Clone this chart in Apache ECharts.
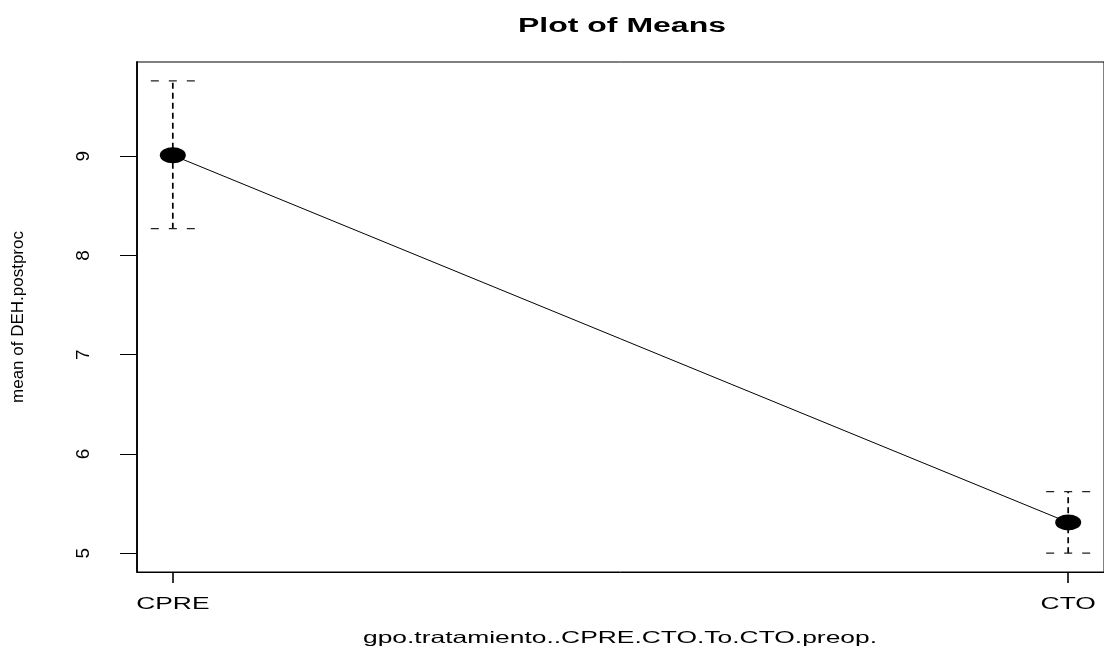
<!DOCTYPE html>
<html>
<head>
<meta charset="utf-8">
<script src="https://cdn.jsdelivr.net/npm/echarts@6/dist/echarts.min.js"></script>
<style>
  html, body { margin: 0; padding: 0; background: #fff; }
  #chart { width: 1104px; height: 651px; }
</style>
</head>
<body>
<div id="chart"></div>
<script>
// Group means of DEH.postproc with their interval bars
const categories = ['CPRE', 'CTO'];
const xPositions = [1, 2];
const means = [9.01, 5.31];
const lowerBounds = [8.27, 5.0];
const upperBounds = [9.76, 5.62];
const yTicks = [5, 6, 7, 8, 9];
const yRange = [4.81, 9.95];
const xRange = [0.96, 2.04];

const titleText = 'Plot of Means';
const xName = 'gpo.tratamiento..CPRE.CTO.To.CTO.preop.';
const yName = 'mean of DEH.postproc';

const FONT = '"Liberation Sans", Arial, Helvetica, sans-serif';
const WIDE = 1.6;          // horizontal text widening
const GRID = { left: 137, top: 62, width: 970, height: 510 };

const meanPoints = xPositions.map((x, i) => [x, means[i]]);
const barData = xPositions.map((x, i) => [x, lowerBounds[i], upperBounds[i]]);

const chart = echarts.init(document.getElementById('chart'), null, { renderer: 'canvas' });

const option = {
  backgroundColor: '#ffffff',
  animation: false,
  grid: Object.assign({ show: true, borderColor: '#000', borderWidth: 1, backgroundColor: 'transparent' }, GRID),
  xAxis: {
    type: 'value',
    min: xRange[0],
    max: xRange[1],
    splitLine: { show: false },
    axisLine: { show: true, onZero: false, lineStyle: { color: '#000', width: 1 } },
    axisTick: { show: true, customValues: xPositions, length: 11, lineStyle: { color: '#000', width: 1.6 } },
    axisLabel: { show: false }
  },
  yAxis: {
    type: 'value',
    min: yRange[0],
    max: yRange[1],
    name: yName,
    nameLocation: 'middle',
    nameRotate: 90,
    nameGap: 110,
    nameTextStyle: { fontFamily: FONT, fontSize: 17, color: '#000' },
    splitLine: { show: false },
    axisLine: { show: true, lineStyle: { color: '#000', width: 1.8 } },
    axisTick: { show: true, customValues: yTicks, length: 17, lineStyle: { color: '#000', width: 1 } },
    axisLabel: {
      customValues: yTicks,
      rotate: 90,
      margin: 44,
      fontFamily: FONT,
      fontSize: 19,
      color: '#000'
    }
  },
  series: [
    {
      // dashed interval bars with dashed end caps
      type: 'custom',
      z: 2,
      data: barData,
      encode: { x: 0, y: [1, 2] },
      renderItem: function (params, api) {
        const x = api.value(0);
        const lo = api.coord([x, api.value(1)]);
        const hi = api.coord([x, api.value(2)]);
        const half = 22;
        const capStyle = { stroke: '#222', lineWidth: 1.2, lineDash: [8, 10] };
        return {
          type: 'group',
          children: [
            { type: 'line', shape: { x1: lo[0], y1: lo[1], x2: hi[0], y2: hi[1] },
              style: { stroke: '#000', lineWidth: 1.7, lineDash: [6, 4] } },
            { type: 'line', shape: { x1: hi[0] - half, y1: hi[1], x2: hi[0] + half, y2: hi[1] }, style: capStyle },
            { type: 'line', shape: { x1: lo[0] - half, y1: lo[1], x2: lo[0] + half, y2: lo[1] }, style: capStyle }
          ]
        };
      }
    },
    {
      type: 'line',
      z: 3,
      data: meanPoints,
      symbol: 'circle',
      symbolSize: [26, 16],
      showSymbol: true,
      lineStyle: { color: '#000', width: 1 },
      itemStyle: { color: '#000', borderWidth: 0 }
    }
  ]
};

chart.setOption(option);

// Horizontal texts, widened, placed from the axis scale
const bottomY = chart.convertToPixel({ gridIndex: 0 }, [xRange[0], yRange[0]])[1];
const centerX = GRID.left + GRID.width / 2;
const graphics = [
  {
    type: 'text', x: centerX, y: 26, scaleX: WIDE,
    style: { text: titleText, fontFamily: FONT, fontSize: 20, fontWeight: 'bold', fill: '#000', align: 'center', verticalAlign: 'middle' }
  },
  {
    type: 'text', x: centerX - 2, y: 638, scaleX: WIDE,
    style: { text: xName, fontFamily: FONT, fontSize: 16.5, fill: '#000', align: 'center', verticalAlign: 'middle' }
  }
];
categories.forEach((name, i) => {
  const px = chart.convertToPixel({ gridIndex: 0 }, [xPositions[i], yRange[0]]);
  graphics.push({
    type: 'text', x: px[0], y: bottomY + 32, scaleX: WIDE,
    style: { text: name, fontFamily: FONT, fontSize: 16.5, fill: '#000', align: 'center', verticalAlign: 'middle' }
  });
});
chart.setOption({ graphic: graphics });
</script>
</body>
</html>
